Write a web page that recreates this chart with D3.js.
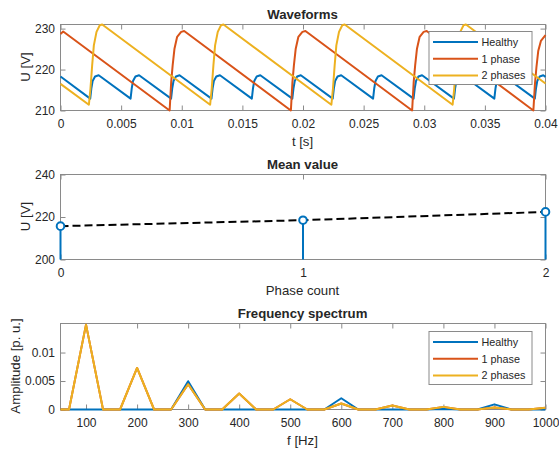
<!doctype html>
<html>
<head>
<meta charset="utf-8">
<title>Waveforms, mean value, spectrum</title>
<script src="https://cdnjs.cloudflare.com/ajax/libs/d3/7.8.5/d3.min.js"></script>
<style>
  body { margin: 0; background: #fff; }
  svg { font-family: "Liberation Sans", Arial, sans-serif; }
</style>
</head>
<body>
<div id="chart"></div>
<script>
// ---- data ----
const seriesNames = ['Healthy', '1 phase', '2 phases'];

// waveforms: time [s] and voltage [V]
const healthyT = [0,
  0.00245, 0.00255, 0.00265, 0.00285, 0.00315,
  0.00578, 0.00588, 0.00598, 0.00618, 0.00648,
  0.00912, 0.00922, 0.00932, 0.00952, 0.00982,
  0.01245, 0.01255, 0.01265, 0.01285, 0.01315,
  0.01578, 0.01588, 0.01598, 0.01618, 0.01648,
  0.01912, 0.01922, 0.01932, 0.01952, 0.01982,
  0.02245, 0.02255, 0.02265, 0.02285, 0.02315,
  0.02578, 0.02588, 0.02598, 0.02618, 0.02648,
  0.02912, 0.02922, 0.02932, 0.02952, 0.02982,
  0.03245, 0.03255, 0.03265, 0.03285, 0.03315,
  0.03578, 0.03588, 0.03598, 0.03618, 0.03648,
  0.03912, 0.03922, 0.03932, 0.03952, 0.03982,
  0.04];
const healthyU = [218.3,
  212.9, 215.5, 217.2, 218.3, 218.6,
  212.9, 215.5, 217.2, 218.3, 218.6,
  212.9, 215.5, 217.2, 218.3, 218.6,
  212.9, 215.5, 217.2, 218.3, 218.6,
  212.9, 215.5, 217.2, 218.3, 218.6,
  212.9, 215.5, 217.2, 218.3, 218.6,
  212.9, 215.5, 217.2, 218.3, 218.6,
  212.9, 215.5, 217.2, 218.3, 218.6,
  212.9, 215.5, 217.2, 218.3, 218.6,
  212.9, 215.5, 217.2, 218.3, 218.6,
  212.9, 215.5, 217.2, 218.3, 218.6,
  212.9, 215.5, 217.2, 218.3, 218.6,
  218.2];

const onePhaseT = [0, 0.00022,
  0.0090, 0.00913, 0.00925, 0.0094, 0.00962, 0.00995, 0.0102,
  0.0190, 0.01913, 0.01925, 0.0194, 0.01962, 0.01995, 0.0202,
  0.0290, 0.02913, 0.02925, 0.0294, 0.02962, 0.02995, 0.0302,
  0.0390, 0.03913, 0.03925, 0.0394, 0.03962, 0.0400];
const onePhaseU = [228.7, 229.3,
  210.0, 217.0, 221.0, 225.1, 228.0, 229.2, 229.4,
  210.0, 217.0, 221.0, 225.1, 228.0, 229.2, 229.4,
  210.0, 217.0, 221.0, 225.1, 228.0, 229.2, 229.4,
  210.0, 216.5, 220.5, 224.5, 227.0, 228.4];

const twoPhaseT = [0,
  0.00234, 0.00247, 0.00261, 0.00275, 0.00297, 0.00324, 0.00344,
  0.01234, 0.01247, 0.01261, 0.01275, 0.01297, 0.01324, 0.01344,
  0.02234, 0.02247, 0.02261, 0.02275, 0.02297, 0.02324, 0.02344,
  0.03234, 0.03247, 0.03261, 0.03275, 0.03297, 0.03324, 0.03344,
  0.04];
const twoPhaseU = [216.5,
  211.4, 215.3, 221.0, 225.9, 229.2, 230.8, 231.0,
  211.4, 215.3, 221.0, 225.9, 229.2, 230.8, 231.0,
  211.4, 215.3, 221.0, 225.9, 229.2, 230.8, 231.0,
  211.4, 215.3, 221.0, 225.9, 229.2, 230.8, 231.0,
  216.6];

// mean value per phase count
const phaseCount = [0, 1, 2];
const meanU = [215.7, 218.5, 222.4];

// spectrum
const freqHz = [33.33, 66.67, 100, 133.33, 166.67, 200, 233.33, 266.67, 300, 333.33,
  366.67, 400, 433.33, 466.67, 500, 533.33, 566.67, 600, 633.33, 666.67,
  700, 733.33, 766.67, 800, 833.33, 866.67, 900, 933.33, 966.67, 1000];
const ampHealthy = [0, 0, 0, 0, 0, 0, 0, 0, 0.00497, 0,
  0, 0, 0, 0, 0, 0, 0, 0.00198, 0, 0,
  0, 0, 0, 0.0001, 0, 0, 0.0009, 0, 0, 0];
const ampOnePhase = [0, 0, 0.0149, 0, 0, 0.0073, 0, 0, 0.00444, 0,
  0, 0.0028, 0, 0, 0.0018, 0, 0, 0.00105, 0, 0,
  0.0007, 0, 0, 0.00046, 0, 0, 0.00035, 0, 0, 0.0003];
const ampTwoPhase = [0, 0, 0.0149, 0, 0, 0.0073, 0, 0, 0.00444, 0,
  0, 0.0028, 0, 0, 0.0018, 0, 0, 0.00105, 0, 0,
  0.0007, 0, 0, 0.00046, 0, 0, 0.00035, 0, 0, 0.0003];

// ticks
const waveXTicks = [0, 0.005, 0.01, 0.015, 0.02, 0.025, 0.03, 0.035, 0.04];
const waveYTicks = [210, 220, 230];
const meanXTicks = [0, 1, 2];
const meanYTicks = [200, 220, 240];
const specXTicks = [100, 200, 300, 400, 500, 600, 700, 800, 900, 1000];
const specYTicks = [0, 0.005, 0.01];

// ---- drawing ----
const colors = ['#0072BD', '#D95319', '#EDB120'];
const textColor = '#262626', boxColor = '#8a8a8a';
const W = 485; // plot width, all panels

const svg = d3.select('#chart').append('svg')
  .attr('width', 559).attr('height', 450);

function panel(top, h, xDomain, yDomain, xTicks, yTicks, title, xLabel, yLabel, yLabelX) {
  const g = svg.append('g').attr('transform', `translate(60.5,${top + 0.5})`);
  const x = d3.scaleLinear().domain(xDomain).range([0, W]);
  const y = d3.scaleLinear().domain(yDomain).range([h, 0]);
  const fmt = d => String(d);

  const axes = [
    g.append('g').attr('transform', `translate(0,${h})`)
      .call(d3.axisBottom(x).tickValues(xTicks).tickFormat(fmt).tickSize(-5).tickPadding(9)),
    g.append('g').call(d3.axisTop(x).tickValues(xTicks).tickFormat('').tickSize(-5)),
    g.append('g').call(d3.axisLeft(y).tickValues(yTicks).tickFormat(fmt).tickSize(-5).tickPadding(5.5)),
    g.append('g').attr('transform', `translate(${W},0)`)
      .call(d3.axisRight(y).tickValues(yTicks).tickFormat('').tickSize(-5))
  ];
  axes.forEach(a => {
    a.select('.domain').remove();
    a.selectAll('.tick line').attr('stroke', boxColor);
    a.selectAll('.tick text').attr('fill', textColor).style('font-size', '12px');
  });

  g.append('rect').attr('width', W).attr('height', h)
    .attr('fill', 'none').attr('stroke', boxColor);

  svg.append('text').attr('x', 302.5).attr('y', top - 5)
    .attr('text-anchor', 'middle').attr('fill', textColor)
    .style('font-size', '13.2px').style('font-weight', 'bold').text(title);
  svg.append('text').attr('x', 302.5).attr('y', top + h + 36)
    .attr('text-anchor', 'middle').attr('fill', textColor)
    .style('font-size', '13.2px').text(xLabel);
  svg.append('text').attr('transform', `translate(${yLabelX},${top + h / 2}) rotate(-90)`)
    .attr('text-anchor', 'middle').attr('fill', textColor)
    .style('font-size', '13.2px').text(yLabel);

  return { g, x, y, h };
}

function legend(g, x0, y0) {
  const lg = g.append('g').attr('transform', `translate(${x0},${y0})`);
  lg.append('rect').attr('width', 103).attr('height', 53)
    .attr('fill', '#fff').attr('stroke', boxColor);
  seriesNames.forEach((name, i) => {
    const yy = 10.5 + i * 16.8;
    lg.append('line').attr('x1', 4).attr('x2', 49).attr('y1', yy).attr('y2', yy)
      .attr('stroke', colors[i]).attr('stroke-width', 2);
    lg.append('text').attr('x', 52.5).attr('y', yy).attr('dy', '0.35em')
      .attr('fill', textColor).style('font-size', '10.8px').text(name);
  });
}

// panel 1: waveforms
const p1 = panel(24, 86, [0, 0.04], [210, 231], waveXTicks, waveYTicks,
  'Waveforms', 't [s]', 'U [V]', 30);
const waves = [[healthyT, healthyU], [onePhaseT, onePhaseU], [twoPhaseT, twoPhaseU]];
const line1 = d3.line().x(d => p1.x(d[0])).y(d => p1.y(d[1]));
waves.forEach(([ts, us], i) => {
  p1.g.append('path').datum(ts.map((t, j) => [t, us[j]]))
    .attr('d', line1).attr('fill', 'none')
    .attr('stroke', colors[i]).attr('stroke-width', 2).attr('stroke-linejoin', 'round');
});
legend(p1.g, 368.5, 7);

// panel 2: mean value
const p2 = panel(174, 85, [0, 2], [200, 240], meanXTicks, meanYTicks,
  'Mean value', 'Phase count', 'U [V]', 30);
const meanPts = phaseCount.map((c, i) => [c, meanU[i]]);
p2.g.append('path').datum(meanPts)
  .attr('d', d3.line().x(d => p2.x(d[0])).y(d => p2.y(d[1])))
  .attr('fill', 'none').attr('stroke', '#000').attr('stroke-width', 2)
  .attr('stroke-dasharray', '8,4');
p2.g.selectAll('.stem').data(meanPts).join('line')
  .attr('x1', d => p2.x(d[0])).attr('x2', d => p2.x(d[0]))
  .attr('y1', p2.y(200)).attr('y2', d => p2.y(d[1]))
  .attr('stroke', colors[0]).attr('stroke-width', 2);
p2.g.selectAll('.mark').data(meanPts).join('circle')
  .attr('cx', d => p2.x(d[0])).attr('cy', d => p2.y(d[1])).attr('r', 3.8)
  .attr('fill', '#fff').attr('stroke', colors[0]).attr('stroke-width', 2);

// panel 3: frequency spectrum
const p3 = panel(323, 86, [50, 1000], [0, 0.0151], specXTicks, specYTicks,
  'Frequency spectrum', 'f [Hz]', 'Amplitude [p. u.]', 20);
p3.g.append('clipPath').attr('id', 'specClip')
  .append('rect').attr('x', 0).attr('y', -5).attr('width', W).attr('height', p3.h + 10);
const line3 = d3.line().x(d => p3.x(d[0])).y(d => p3.y(d[1]));
[ampHealthy, ampOnePhase, ampTwoPhase].forEach((amps, i) => {
  p3.g.append('path').datum(freqHz.map((f, j) => [f, amps[j]]))
    .attr('clip-path', 'url(#specClip)')
    .attr('d', line3).attr('fill', 'none')
    .attr('stroke', colors[i]).attr('stroke-width', 2).attr('stroke-linejoin', 'round');
});
legend(p3.g, 368.5, 8);
</script>
</body>
</html>
